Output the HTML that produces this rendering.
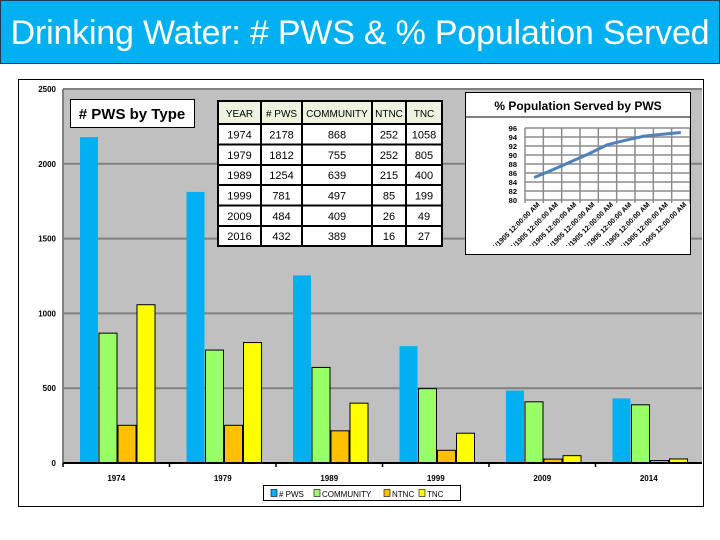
<!DOCTYPE html>
<html><head><meta charset="utf-8"><style>
body{margin:0;width:720px;height:540px;background:#fff;overflow:hidden;position:relative;font-family:"Liberation Sans",sans-serif}
#title{position:absolute;left:0;top:0;width:718px;height:62px;background:#00b0f0;border:1px solid #1f3a5a;color:#fff;font-size:34px;line-height:64px;text-align:center;letter-spacing:-0.2px;white-space:nowrap}
svg{position:absolute;left:0;top:0}
</style></head><body>
<div id="title">Drinking Water: # PWS &amp; % Population Served</div>
<svg id="s" width="720" height="540"></svg>
<script>
const years=["1974","1979","1989","1999","2009","2014"];
const pws=[2178,1812,1254,781,484,432];
const community=[868,755,639,497,409,389];
const ntnc=[252,252,215,85,26,16];
const tnc=[1058,805,400,199,49,27];
const yTicks=[0,500,1000,1500,2000,2500];
const tableRows=[["1974","2178","868","252","1058"],["1979","1812","755","252","805"],["1989","1254","639","215","400"],["1999","781","497","85","199"],["2009","484","409","26","49"],["2016","432","389","16","27"]];
const pctValues=[85,86.7,88.5,90.3,92.3,93.3,94.2,94.6,95.0];
const pctTicks=[80,82,84,86,88,90,92,94,96];

const NS="http://www.w3.org/2000/svg";const s=document.getElementById('s');
function el(t,a,p){const e=document.createElementNS(NS,t);for(const k in a)e.setAttribute(k,a[k]);(p||s).appendChild(e);return e;}
function tx(x,y,str,a,p){const e=el('text',Object.assign({x:x,y:y},a),p);e.textContent=str;return e;}
const frame=el('rect',{x:18.5,y:79.5,width:685,height:427,fill:'#fff',stroke:'#000'});


const L=63,R=702,T=89,B=463;
const y=v=>B-(v/2500)*(B-T);
const pa=el('rect',{x:L,y:T,width:R-L,height:B-T,fill:'#c0c0c0'});


yTicks.forEach(v=>{
 if(v>0){const g=el('line',{x1:L,x2:R,y1:y(v),y2:y(v),stroke:'#808080','stroke-width':2});
 
 }
 const t=tx(L-7,y(v)+3,String(v),{'font-size':8,'font-weight':'bold','text-anchor':'end',fill:'#000'});
 
 
});
el('line',{x1:L,x2:L,y1:T,y2:B,stroke:'#808080','stroke-width':2});
const gw=(R-L)/years.length,bw=19;
const series=[[pws,'#00b0f0','none'],[community,'#99ff66','#000'],[ntnc,'#ffc000','#000'],[tnc,'#ffff00','#000']];
years.forEach((yr,i)=>{
 const g0=L+i*gw;
 series.forEach((sr,j)=>{
  const v=sr[0][i];
  const b=el('rect',{x:g0+17+j*bw,y:y(v),width:bw-1,height:B-y(v),fill:sr[1],stroke:sr[2],'stroke-width':1});
  
  
 });
 const t=tx(g0+gw/2,481,yr,{'font-size':8,'font-weight':'bold','text-anchor':'middle'});
 
 
 el('line',{x1:g0,x2:g0,y1:B,y2:B+4,stroke:'#000','stroke-width':1.5});
});
el('line',{x1:L,x2:R,y1:B,y2:B,stroke:'#000','stroke-width':2});
const lg=el('g',{});


el('rect',{x:263.5,y:485.5,width:197,height:15,fill:'#fff',stroke:'#000'},lg);
[['# PWS','#00b0f0',271],['COMMUNITY','#99ff66',314],['NTNC','#ffc000',384],['TNC','#ffff00',419]].forEach(d=>{
 el('rect',{x:d[2],y:489.5,width:6,height:7,fill:d[1],stroke:'#000','stroke-width':0.6},lg);
 tx(d[2]+8,497,d[0],{'font-size':8},lg);
});
const tb=el('g',{});


el('rect',{x:70.5,y:99.5,width:124,height:28,fill:'#fff',stroke:'#000'},tb);
tx(132,119,'# PWS by Type',{'font-size':15,'font-weight':'bold','text-anchor':'middle'},tb);
const tg=el('g',{});


const cx=[218,261,302,372,406,442],hdr=["YEAR","# PWS","COMMUNITY","NTNC","TNC"];
const ry=[101,124,144.5,165,185,205.5,226,246];
el('rect',{x:218,y:101,width:224,height:145,fill:'#fff',stroke:'#000','stroke-width':2},tg);
el('rect',{x:219,y:102,width:222,height:22,fill:'#eef3e0'},tg);
cx.slice(1,5).forEach(x=>el('line',{x1:x,x2:x,y1:101,y2:246,stroke:'#000','stroke-width':2},tg));
ry.slice(1,7).forEach(yy=>el('line',{x1:218,x2:442,y1:yy,y2:yy,stroke:'#000','stroke-width':2},tg));
hdr.forEach((h,c)=>tx((cx[c]+cx[c+1])/2,117,h,{'font-size':10,'text-anchor':'middle'},tg));
for(let i=0;i<tableRows.length;i++){
 for(let c=0;c<5;c++){
  tx((cx[c]+cx[c+1])/2,(ry[i+1]+ry[i+2])/2+4,tableRows[i][c],{'font-size':11,'text-anchor':'middle'},tg);
 }
}
const lc=el('g',{});


el('rect',{x:465.5,y:92.5,width:225,height:162,fill:'#fff',stroke:'#000'},lc);
el('line',{x1:466,x2:690,y1:117,y2:117,stroke:'#000'},lc);
tx(578,110,'% Population Served by PWS',{'font-size':12,'font-weight':'bold','text-anchor':'middle'},lc);
const pl=525,pr=690,pt=128,pb=200;
const py=v=>pb-(v-80)/16*(pb-pt);
const n=pctValues.length,step=(pr-pl)/n;
pctTicks.forEach(v=>{el('line',{x1:pl,x2:pr,y1:py(v),y2:py(v),stroke:'#8c8c8c','stroke-width':1.5},lc);
 tx(pl-8,py(v)+3,String(v),{'font-size':7.5,'font-weight':'bold','text-anchor':'end'},lc);});
for(let i=0;i<=n;i++){el('line',{x1:pl+i*step,x2:pl+i*step,y1:pt,y2:pb+3,stroke:'#8c8c8c','stroke-width':1.5},lc);}
for(let i=0;i<n;i++){const xx=pl+(i+0.5)*step;
 tx(xx+6,pb+5,'1/1905 12:00:00 AM',{'font-size':7,'font-weight':'bold','text-anchor':'end',transform:'rotate(-45 '+(xx+6)+' '+(pb+5)+')'},lc);}
const pts=pctValues.map((v,i)=>(pl+(i+0.5)*step)+','+py(v)).join(' ');
const pline=el('polyline',{points:pts,fill:'none',stroke:'#4f81bd','stroke-width':3},lc);


el('rect',{x:466,y:246,width:224,height:8,fill:'#fff'},lc);
el('rect',{x:465.5,y:92.5,width:225,height:162,fill:'none',stroke:'#000'},lc);
</script>
</body></html>
